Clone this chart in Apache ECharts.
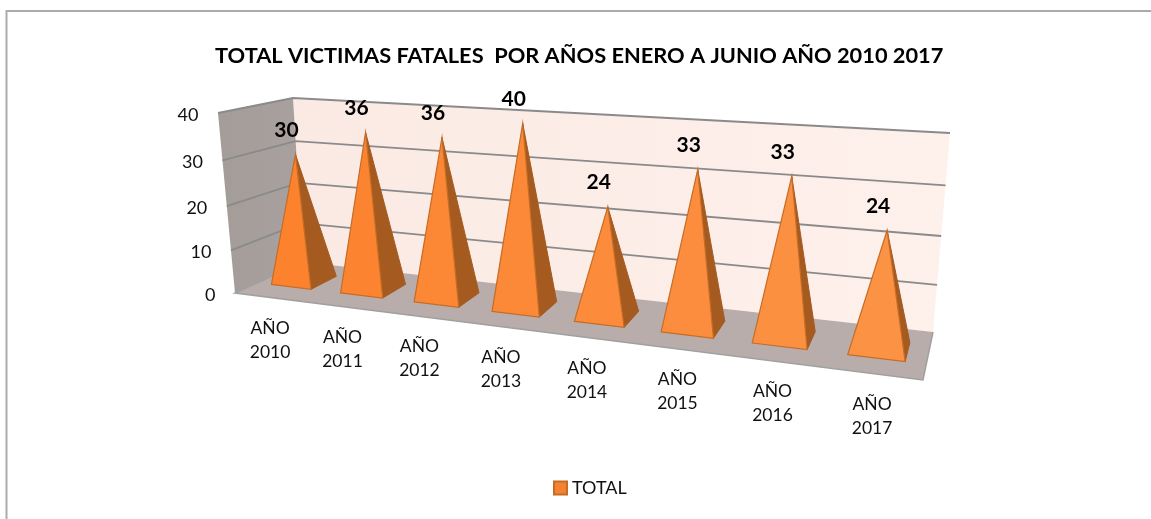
<!DOCTYPE html>
<html><head><meta charset="utf-8">
<style>html,body{margin:0;padding:0;background:#fff}#c{width:1151px;height:519px}</style>
<script src="https://cdn.jsdelivr.net/npm/echarts@6/dist/echarts.min.js"></script>
</head><body><div id="c"></div>
<script>
var titleText = 'TOTAL VICTIMAS FATALES  POR AÑOS ENERO A JUNIO AÑO 2010 2017';
var categories = ['AÑO\n2010','AÑO\n2011','AÑO\n2012','AÑO\n2013','AÑO\n2014','AÑO\n2015','AÑO\n2016','AÑO\n2017'];
var totals = [30,36,36,40,24,33,33,24];
var yTicks = [0,10,20,30,40];
var seriesName = 'TOTAL';
var FONT = 'Lato, "Open Sans", sans-serif';

// Corners of the 3-D chart box as seen on the page (the view, not the data)
var box = {
  fbl:[235,293], fbr:[923,380], ftl:[218,113], ftr:[938,161],
  bbl:[303,262], bbr:[933,332], btl:[293,98],  btr:[950,133]
};
function mix(a,b,t){return [a[0]+(b[0]-a[0])*t, a[1]+(b[1]-a[1])*t];}
// Oblique view: across (0..1), depth (0 front..1 back), height (0..1)
function view(u,d,w){
  var hw = w*(0.93+0.07*w);
  var bottom = mix(mix(box.fbl,box.fbr,u), mix(box.bbl,box.bbr,u), d);
  var top = mix(mix(box.ftl,box.ftr,u), mix(box.btl,box.btr,u), d);
  return mix(bottom,top,hw);
}
function warpU(u){return 0.79*u+0.21*u*u;}
// Take a point from the (hidden) cartesian axes into the oblique view
function fromAxes(rect,px,py,d,scale){
  var u=(px-rect.x)/rect.width, w=(rect.y+rect.height-py)/rect.height;
  return view(warpU(u),d,w*(scale||1));
}
var DEPTH_FRONT=0.33, DEPTH_BACK=0.73, DEPTH_MID=0.53, BAND=0.29, APEX_SCALE=0.988;

function renderFrame(params,api){
  var rect=params.coordSys;
  var py=api.coord([0,api.value(1)])[1], t=api.value(1);
  var w=(rect.y+rect.height-py)/rect.height;
  var ch=[];
  if(params.dataIndex===0){
    ch.push({type:'polygon',shape:{points:[box.btl,box.btr,box.bbr,box.bbl]},
      style:{fill:new echarts.graphic.LinearGradient(0,0,1,0,[{offset:0,color:'#FBEAE4'},{offset:1,color:'#FEF0EB'}])}});
    ch.push({type:'polygon',shape:{points:[box.ftl,box.btl,box.bbl,box.fbl]},
      style:{fill:new echarts.graphic.LinearGradient(0,0,1,0,[{offset:0,color:'#A39C99'},{offset:1,color:'#A8A19F'}])}});
    ch.push({type:'polygon',shape:{points:[box.fbl,box.bbl,box.bbr,box.fbr]},
      style:{fill:'#B8ADAB'}});
    ch.push({type:'polyline',shape:{points:[box.bbr,box.fbr,box.fbl,box.bbl]},
      style:{fill:null,stroke:'#A0A0A0',lineWidth:1.5}});
  }
  if(t>0){
    ch.push({type:'polyline',shape:{points:[view(0,0,w),view(0,1,w),view(1,1,w)]},
      style:{fill:null,stroke:'#8A8A8A',lineWidth:1.8}});
  }
  var edge=view(0,0,w);
  ch.push({type:'text',x:edge[0]-19.5,y:edge[1]+2,
    style:{text:String(t),font:'18px '+FONT,fill:'#111',align:'right',verticalAlign:'middle'}});
  return {type:'group',children:ch};
}

function renderPyramid(params,api){
  var rect=params.coordSys, i=api.value(0), v=api.value(1);
  var c=api.coord([i,v]), base=api.coord([i,0]), bw=api.size([1,0])[0]*BAND;
  var fl=fromAxes(rect,base[0]-bw,base[1],DEPTH_FRONT);
  var fr=fromAxes(rect,base[0]+bw,base[1],DEPTH_FRONT);
  var br=fromAxes(rect,base[0]+bw,base[1],DEPTH_BACK);
  var apex=fromAxes(rect,c[0],c[1],DEPTH_MID,APEX_SCALE);
  var foot=fromAxes(rect,base[0],base[1],0);
  var k=i/(categories.length-1);
  var front='rgb(252,'+Math.round(130+16*k)+','+Math.round(46+22*k)+')';
  return {type:'group',children:[
    {type:'polygon',shape:{points:[fr,br,apex]},style:{fill:'#A55A20',stroke:'#A55A20',lineWidth:1}},
    {type:'polygon',shape:{points:[fl,fr,apex]},style:{fill:front,stroke:'#C56C25',lineWidth:1.2}},
    {type:'text',x:apex[0]-9,y:apex[1]-24.5,
      style:{text:String(v),font:'bold 21px '+FONT,fill:'#000',align:'center',verticalAlign:'middle'}},
    {type:'text',x:foot[0]+0.5,y:foot[1]+42.5,
      style:{text:categories[i],font:'17.5px '+FONT,fill:'#111',align:'center',verticalAlign:'middle',lineHeight:24}}
  ]};
}

var chart=echarts.init(document.getElementById('c'),null,{renderer:'canvas'});
chart.setOption({
  animation:false,
  backgroundColor:'#fff',
  title:{text:titleText,left:210,top:40,itemGap:0,
    textStyle:{fontFamily:FONT,fontWeight:'bold',fontSize:21.8,color:'#000'}},
  legend:{data:[{name:seriesName,icon:'rect'}],left:548,top:474,itemWidth:13,itemHeight:13,itemGap:5,
    textStyle:{fontFamily:FONT,fontSize:18,color:'#111'}},
  grid:{left:0,right:0,top:0,bottom:0},
  xAxis:{type:'category',data:categories,show:false},
  yAxis:{type:'value',min:0,max:40,interval:10,show:false},
  graphic:[
    {type:'polyline',silent:true,z:-1,shape:{points:[[6.5,519],[6.5,11],[1151,11]]},style:{fill:null,stroke:'#ABABAB',lineWidth:2}}
  ],
  series:[
    {type:'custom',name:'frame',coordinateSystem:'cartesian2d',renderItem:renderFrame,silent:true,z:1,
      data:yTicks.map(function(t){return [0,t];}),encode:{x:0,y:1}},
    {type:'custom',name:seriesName,coordinateSystem:'cartesian2d',renderItem:renderPyramid,z:2,
      itemStyle:{color:'#F58231',borderColor:'#C56C25',borderWidth:1},
      data:totals.map(function(v,i){return [i,v];}),encode:{x:0,y:1}}
  ]
});
</script></body></html>
